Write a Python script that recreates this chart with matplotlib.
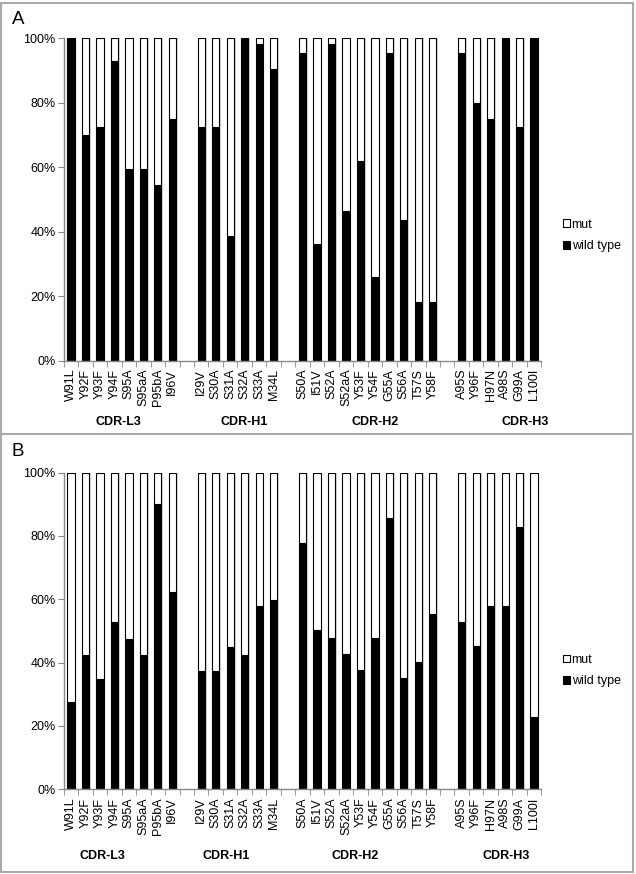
import numpy as np
import matplotlib
matplotlib.use("Agg")
import matplotlib.pyplot as plt
from matplotlib.patches import Rectangle

plt.rcParams['font.family'] = ['Liberation Sans', 'DejaVu Sans']

groups = ["CDR-L3", "CDR-H1", "CDR-H2", "CDR-H3"]
mutants = [
    ["W91L", "Y92F", "Y93F", "Y94F", "S95A", "S95aA", "P95bA", "I96V"],
    ["I29V", "S30A", "S31A", "S32A", "S33A", "M34L"],
    ["S50A", "I51V", "S52A", "S52aA", "Y53F", "Y54F", "G55A", "S56A", "T57S", "Y58F"],
    ["A95S", "Y96F", "H97N", "A98S", "G99A", "L100I"],
]

# percent wild type, panel A
wt_a = [
    [100, 69.8, 72.3, 92.9, 59.3, 59.3, 54.3, 74.8],
    [72.3, 72.3, 38.7, 100, 98.0, 90.4],
    [95.4, 36.1, 98.0, 46.3, 61.8, 25.8, 95.4, 43.7, 18.1, 18.1],
    [95.4, 79.8, 74.9, 100, 72.3, 100],
]
# percent wild type, panel B
wt_b = [
    [27.7, 42.4, 34.9, 52.7, 47.6, 42.4, 90.1, 62.4],
    [37.5, 37.5, 45.0, 42.4, 57.9, 59.9],
    [77.7, 50.3, 47.7, 42.6, 37.6, 47.7, 85.6, 35.0, 40.1, 55.5],
    [52.8, 45.2, 58.0, 58.0, 82.9, 22.7],
]

group_x_a = [3.25, 12.0, 21.0, 31.4]
group_x_b = [2.2, 10.7, 19.6, 30.1]


def draw_panel(ax, wt, group_x, group_y, leg_y):
    labels, wts = [], []
    for i, (names, vals) in enumerate(zip(mutants, wt)):
        if i > 0:
            labels.append("")
            wts.append(np.nan)
        labels += names
        wts += vals
    wts = np.array(wts, dtype=float)
    x = np.arange(len(labels))
    ok = ~np.isnan(wts)
    mut = 100 - wts
    # soft shadow like the original export
    ax.bar(x[ok] + 0.12, np.full(ok.sum(), 100), width=0.5, color="#d8d8d8",
           edgecolor="none", zorder=1)
    ax.bar(x[ok], wts[ok], width=0.5, color="black", edgecolor="black",
           linewidth=0.8, zorder=2, label="wild type")
    ax.bar(x[ok], mut[ok], bottom=wts[ok], width=0.5, color="white",
           edgecolor="black", linewidth=0.8, zorder=2, label="mut")
    ax.set_xlim(-0.5, len(labels) - 0.5)
    ax.set_ylim(0, 100)
    ax.set_yticks([0, 20, 40, 60, 80, 100])
    ax.set_yticklabels(["0%", "20%", "40%", "60%", "80%", "100%"], fontsize=9)
    ax.set_xticks(x)
    ax.set_xticklabels(labels, rotation=90, fontsize=9)
    ax.set_xticks(np.arange(-0.5, len(labels)), minor=True)
    ax.tick_params(axis="x", which="major", length=0, pad=6)
    ax.tick_params(axis="x", which="minor", length=4, color="#888888", direction="out")
    ax.tick_params(axis="y", length=4, color="#888888", direction="out", pad=2)
    for s in ["top", "right"]:
        ax.spines[s].set_visible(False)
    for s in ["left", "bottom"]:
        ax.spines[s].set_color("#888888")
        ax.spines[s].set_linewidth(1.0)
    trans = matplotlib.transforms.blended_transform_factory(ax.transData, ax.transAxes)
    for g, gx in zip(groups, group_x):
        ax.text(gx, group_y, g, transform=trans, ha="center", va="center",
                fontsize=9, fontweight="bold", clip_on=False)
    h, l = ax.get_legend_handles_labels()
    ax.legend(h[::-1], l[::-1], loc="center left", bbox_to_anchor=(1.045, leg_y),
              frameon=False, fontsize=9, handlelength=0.6, handleheight=0.6,
              handletextpad=0.1, labelspacing=0.75, borderpad=0, borderaxespad=0)


fig = plt.figure(figsize=(6.36, 8.74), dpi=100)
ax_a = fig.add_axes([0.1003, 0.5875, 0.7508, 0.369])
ax_b = fig.add_axes([0.1003, 0.0969, 0.7508, 0.3623])
draw_panel(ax_a, wt_a, group_x_a, -0.19, 0.388)
draw_panel(ax_b, wt_b, group_x_b, -0.21, 0.375)

fig.text(18 / 636, 1 - 19 / 874, "A", fontsize=13.5, ha="center", va="center")
fig.text(18 / 636, 1 - 452 / 874, "B", fontsize=13.5, ha="center", va="center")

# frame around both panels
fig.add_artist(Rectangle((0.002, 0.002), 0.993, 0.995, transform=fig.transFigure,
                         fill=False, edgecolor="#aaaaaa", linewidth=1.5))
fig.add_artist(plt.Line2D([0.002, 0.995], [1 - 434 / 874] * 2, transform=fig.transFigure,
                          color="#aaaaaa", linewidth=1.5))

fig.savefig("out.png", dpi=100)
